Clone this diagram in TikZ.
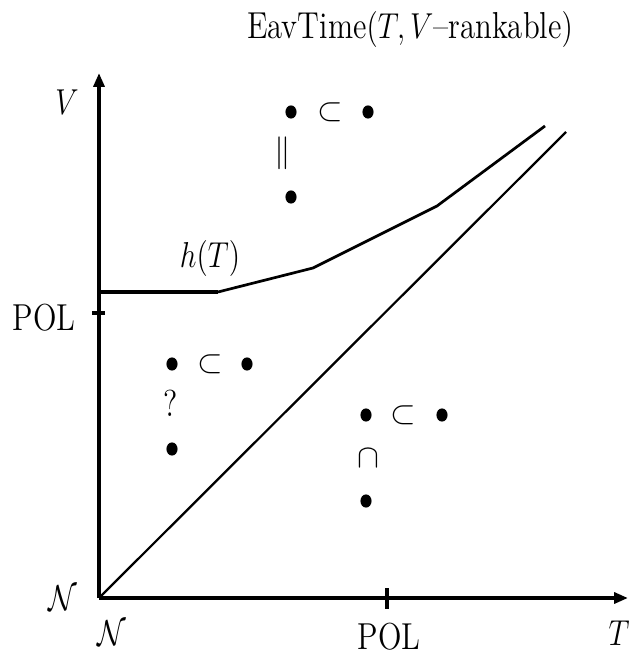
\documentclass[tikz,border=0pt]{standalone}
\usepackage{amsmath,amssymb}
\usepackage{graphicx}
\usepackage{tikz}
\usetikzlibrary{arrows.meta,shapes.geometric}
\newcommand{\lbl}[1]{\scalebox{0.82}[1]{\fontsize{12.5}{15}\selectfont #1}}

\begin{document}
\begin{tikzpicture}[x=0.333pt,y=-0.333pt,>={Triangle[length=4.6pt,width=3.6pt]},
    dot/.style={ellipse,fill,inner sep=0pt,minimum width=3.7pt,minimum height=4.4pt},
    axis/.style={line width=1.3pt},
    rel/.style={inner sep=0pt,font=\fontsize{11}{13}\selectfont}]
  \useasboundingbox (0,0) rectangle (630,654);
  % axes
  \coordinate (O) at (99,598);
  \coordinate (vtop) at (99,73);
  \coordinate (tend) at (628,598);
  \draw[axis,->] (O) -- (vtop);
  \draw[axis,->] (O) -- (tend);
  \draw[axis] (92,313) -- (105,313);
  \draw[axis] (387,588) -- (387,609);
  \node (title) at (410,30) {\lbl{EavTime$(T,V$--rankable$)$}};
  \node (vlab) at (67,102) {\lbl{$V$}};
  \node (tlab) at (619,633) {\lbl{$T$}};
  \node (nleft) at (63,598) {\lbl{$\mathcal{N}$}};
  \node (nbot) at (112,633) {\lbl{$\mathcal{N}$}};
  \node (polv) at (44,318) {\lbl{POL}};
  \node (polt) at (389,637) {\lbl{POL}};
  % h(T) and the diagonal
  \draw[line width=1.2pt] (99,292) -- (218,292);
  \draw[line width=0.9pt] (218,292) -- (313,268) -- (437,206) -- (545,126);
  \node (hlab) at (210,258) {\lbl{$h(T)$}};
  \draw[line width=0.75pt] (O) -- (566,132);
  % upper region
  \node[dot] (ua) at (291,112) {};
  \node[rel] (us) at (330,112) {$\subset$};
  \node[dot] (ub) at (368,112) {};
  \node[rel] (ue) at (283,153) {$\Vert$};
  \node[dot] (uc) at (291,197) {};
  % left region
  \node[dot] (la) at (172,364) {};
  \node[rel] (ls) at (210,364) {$\subset$};
  \node[dot] (lb) at (247,364) {};
  \node[rel] (lq) at (171,403) {\lbl{?}};
  \node[dot] (lc) at (172,449) {};
  % right region
  \node[dot] (ra) at (366,415) {};
  \node[rel] (rs) at (403,415) {$\subset$};
  \node[dot] (rb) at (442,415) {};
  \node[rel] (rc) at (368,458) {$\cap$};
  \node[dot] (rd) at (366,501) {};
\end{tikzpicture}
\end{document}
